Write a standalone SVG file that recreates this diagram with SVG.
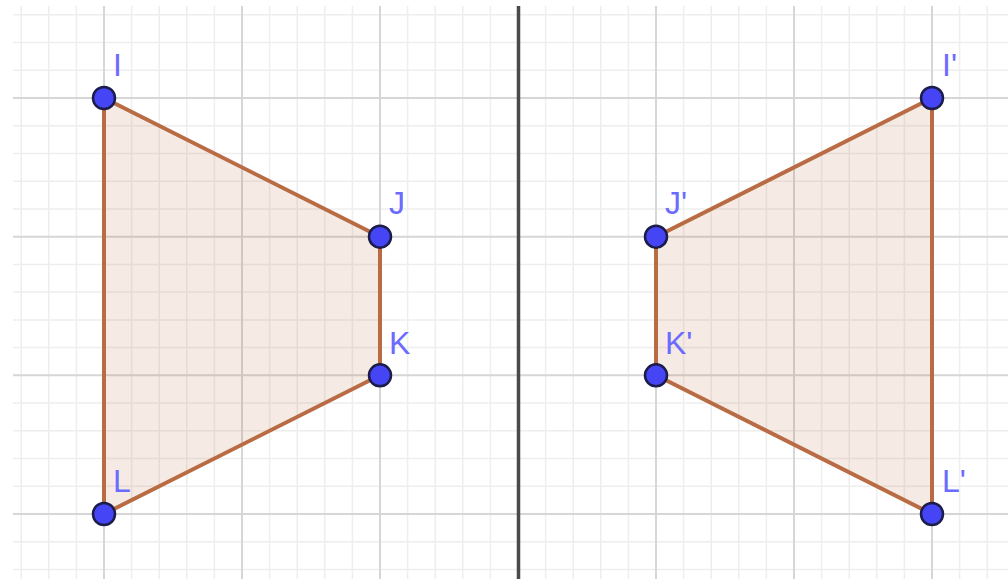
<svg xmlns="http://www.w3.org/2000/svg" width="1008" height="579" viewBox="0 0 1008 579">
<style>
.minor{stroke:#eeeeee;stroke-width:1.5;fill:none}
.major{stroke:#d6d6d6;stroke-width:2;fill:none}
.axis{stroke:#4a4a4a;stroke-width:3.5;fill:none}
.poly{fill:#b96b43;fill-opacity:0.14;stroke:#b96b43;stroke-width:4;stroke-linejoin:round}
.pt{fill:#4545f5;stroke:#1c1c4a;stroke-width:2.5}
.lbl{font-family:"Liberation Sans",Arial,sans-serif;font-size:32px;fill:#6b6bff}
</style>
<defs>
<clipPath id="gridclip"><rect x="13" y="6" width="995" height="573"/></clipPath>
</defs>
<rect width="1008" height="579" fill="#ffffff"/>
<g id="grid" clip-path="url(#gridclip)">
<g class="minor">
<path d="M21.2 0V579M48.8 0V579M76.4 0V579M131.6 0V579M159.2 0V579M186.8 0V579M214.4 0V579M269.6 0V579M297.2 0V579M324.8 0V579M352.4 0V579M407.6 0V579M435.2 0V579M462.8 0V579M490.4 0V579M545.6 0V579M573.2 0V579M600.8 0V579M628.4 0V579M683.6 0V579M711.2 0V579M738.8 0V579M766.4 0V579M821.6 0V579M849.2 0V579M876.8 0V579M904.4 0V579M959.6 0V579M987.2 0V579"/>
<path d="M0 14.8H1008M0 42.5H1008M0 70.3H1008M0 125.7H1008M0 153.5H1008M0 181.2H1008M0 208.9H1008M0 264.4H1008M0 292.1H1008M0 319.9H1008M0 347.6H1008M0 403.1H1008M0 430.8H1008M0 458.5H1008M0 486.3H1008M0 541.7H1008M0 569.5H1008"/>
</g>
<g class="major">
<path d="M104 0V579M242 0V579M380 0V579M656 0V579M794 0V579M932 0V579"/>
<path d="M0 98H1008M0 236.7H1008M0 375.3H1008M0 514H1008"/>
</g>
<path class="axis" d="M518.5 6V579"/>
</g>
<g id="connectors">
<polygon id="IJKL" class="poly" points="104,98 380,236.7 380,375.3 104,514"/>
<polygon id="IJKL-prime" class="poly" points="932,98 656,236.7 656,375.3 932,514"/>
</g>
<g id="node-I"><circle class="pt" cx="104" cy="98" r="11"/><text class="lbl" x="113" y="76">I</text></g>
<g id="node-J"><circle class="pt" cx="380" cy="236.7" r="11"/><text class="lbl" x="389" y="214">J</text></g>
<g id="node-K"><circle class="pt" cx="380" cy="375.3" r="11"/><text class="lbl" x="389" y="354">K</text></g>
<g id="node-L"><circle class="pt" cx="104" cy="514" r="11"/><text class="lbl" x="113" y="492">L</text></g>
<g id="node-I-prime"><circle class="pt" cx="932" cy="98" r="11"/><text class="lbl" x="942" y="76">I'</text></g>
<g id="node-J-prime"><circle class="pt" cx="656" cy="236.7" r="11"/><text class="lbl" x="665" y="214">J'</text></g>
<g id="node-K-prime"><circle class="pt" cx="656" cy="375.3" r="11"/><text class="lbl" x="665" y="354">K'</text></g>
<g id="node-L-prime"><circle class="pt" cx="932" cy="514" r="11"/><text class="lbl" x="942" y="492">L'</text></g>
</svg>
